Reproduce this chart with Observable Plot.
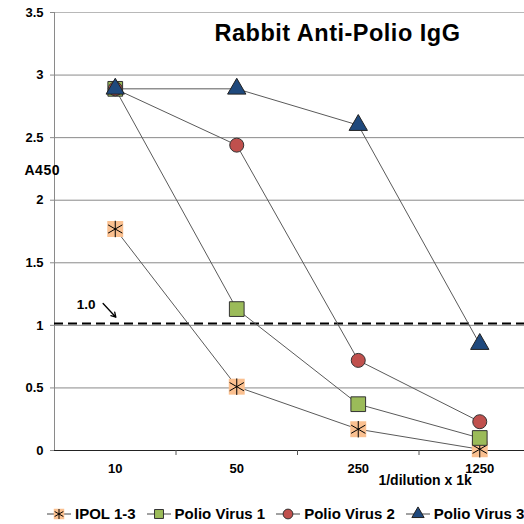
<!DOCTYPE html>
<html><head><meta charset="utf-8">
<script src="https://cdn.jsdelivr.net/npm/d3@7"></script>
<script src="https://cdn.jsdelivr.net/npm/@observablehq/plot@0.6"></script>
<style>
html,body{margin:0;padding:0;background:#fff;overflow:hidden;width:524px;height:524px;}
#chart{position:absolute;left:0;top:0;width:540px;}
#chart svg{max-width:none !important;}
.title-text text{letter-spacing:0.5px;}
.ylab-text text{letter-spacing:0.5px;}
#legend{position:absolute;left:46px;top:505px;display:flex;align-items:center;white-space:nowrap;font:bold 15px "Liberation Sans",Arial,sans-serif;color:#000;}
.item{display:flex;align-items:center;margin-right:10px;}
.item svg{margin-right:3px;}
</style></head>
<body><div id="chart"></div><div id="legend"></div>
<script>
const dilutions = ["10", "50", "250", "1250"];
const seriesNames = ["IPOL 1-3", "Polio Virus 1", "Polio Virus 2", "Polio Virus 3"];
const ipol = [1.77, 0.51, 0.17, 0.01];
const pv1 = [2.89, 1.13, 0.37, 0.10];
const pv2 = [2.89, 2.44, 0.72, 0.23];
const pv3 = [2.89, 2.89, 2.60, 0.85];
const yTicks = [0, 0.5, 1, 1.5, 2, 2.5, 3, 3.5];
const threshold = 1.015;
const titleText = "Rabbit Anti-Polio IgG";
const yLabel = "A450";
const xLabel = "1/dilution x 1k";
const thresholdLabel = "1.0";

const seriesValues = [ipol, pv1, pv2, pv3];
const data = [];
seriesValues.forEach((vals, s) => vals.forEach((v, i) => data.push({series: seriesNames[s], xi: i, v})));
const bySeries = name => data.filter(d => d.series === name);

const font = '"Liberation Sans", Arial, sans-serif';
const lineColor = "#5a5a5a";

const plot = Plot.plot({
  width: 540, height: 490,
  marginLeft: 54, marginRight: 0, marginTop: 12, marginBottom: 40,
  style: {fontFamily: font, background: "transparent", maxWidth: "none", overflow: "visible"},
  x: {type: "linear", domain: [-0.5, 3.5]},
  y: {domain: [0, 3.5]},
  marks: [
    Plot.ruleY(yTicks.filter(t => t > 0 && t < 3.5), {stroke: "#8a8a8a", strokeWidth: 1}),
    Plot.ruleY([3.5], {stroke: "#b8b8b8", strokeWidth: 1}),
    Plot.ruleX([-0.5], {stroke: "#8a8a8a", strokeWidth: 1}),
    Plot.ruleY([0], {stroke: "#222", strokeWidth: 1}),
    Plot.axisY({ticks: yTicks, tickSize: 4, tickPadding: 7, fontSize: 13, fontWeight: "bold", stroke: "#8a8a8a", color: "#000", label: null, tickFormat: d => String(d)}),
    Plot.axisX({ticks: [0, 1, 2, 3], tickSize: 0, tickPadding: 13, fontSize: 13, fontWeight: "bold", label: null, tickFormat: i => dilutions[i]}),
    Plot.axisX({ticks: [0.5, 1.5, 2.5], tickSize: 5, tickFormat: () => "", label: null, stroke: "#555"}),
    Plot.ruleY([threshold], {stroke: "#000", strokeWidth: 2, strokeDasharray: "9,5"}),
    Plot.text([thresholdLabel], {x: -0.24, y: 1.168, fontSize: 13.5, fontWeight: "bold", fill: "#000"}),
    Plot.arrow([{x1: -0.1, y1: 1.175, x2: 0.005, y2: 1.065}], {x1: "x1", y1: "y1", x2: "x2", y2: "y2", stroke: "#000", strokeWidth: 1.3, headLength: 6}),
    ...seriesNames.map(n => Plot.line(bySeries(n), {x: "xi", y: "v", stroke: lineColor, strokeWidth: 1})),
    Plot.dot(bySeries(seriesNames[0]), {x: "xi", y: "v", symbol: "square", r: 9, fill: "#FAC090", stroke: "none"}),
    Plot.dot(bySeries(seriesNames[0]), {x: "xi", y: "v", symbol: "asterisk", r: 7.8, stroke: "#000", strokeWidth: 1}),
    Plot.dot(bySeries(seriesNames[1]), {x: "xi", y: "v", symbol: "square", r: 8.3, fill: "#9BBB59", stroke: "#333", strokeWidth: 1}),
    Plot.dot(bySeries(seriesNames[2]), {x: "xi", y: "v", symbol: "circle", r: 7, fill: "#C0504D", stroke: "#333", strokeWidth: 1}),
    Plot.dot(bySeries(seriesNames[3]), {x: "xi", y: "v", symbol: "triangle", r: 6.8, fill: "#1F497D", stroke: "#222", strokeWidth: 1}),
    Plot.text([titleText], {frameAnchor: "top", dx: 40, dy: 12, lineAnchor: "top", fontSize: 23.5, fontWeight: "bold", fill: "#000", className: "title-text"}),
    Plot.text([yLabel], {frameAnchor: "left", y: 2.24, dx: -30, textAnchor: "start", fontSize: 14, fontWeight: "bold", fill: "#000", className: "ylab-text"}),
    Plot.text([xLabel], {frameAnchor: "bottom", x: 2.55, dy: 34, fontSize: 14, fontWeight: "bold", fill: "#000"})
  ]
});
document.getElementById("chart").appendChild(plot);

const legendSymbols = [
  {sym: d3.symbolSquare, size: 110, fill: "#FAC090", stroke: "none", star: true},
  {sym: d3.symbolSquare, size: 80, fill: "#9BBB59", stroke: "#333"},
  {sym: d3.symbolCircle, size: 75, fill: "#C0504D", stroke: "#333"},
  {sym: d3.symbolTriangle, size: 65, fill: "#1F497D", stroke: "#222"}
];
const legend = d3.select("#legend");
seriesNames.forEach((name, i) => {
  const s = legendSymbols[i];
  const item = legend.append("div").attr("class", "item");
  const svg = item.append("svg").attr("width", 26).attr("height", 16);
  svg.append("line").attr("x1", 1).attr("x2", 25).attr("y1", 8).attr("y2", 8).attr("stroke", "#444").attr("stroke-width", 1);
  svg.append("path").attr("transform", "translate(13,8)").attr("d", d3.symbol(s.sym, s.size)()).attr("fill", s.fill).attr("stroke", s.stroke).attr("stroke-width", 1);
  if (s.star) svg.append("path").attr("transform", "translate(13,8)").attr("d", d3.symbol(d3.symbolAsterisk, 70)()).attr("fill", "none").attr("stroke", "#000").attr("stroke-width", 1);
  item.append("span").text(name);
});
</script>
</body></html>
